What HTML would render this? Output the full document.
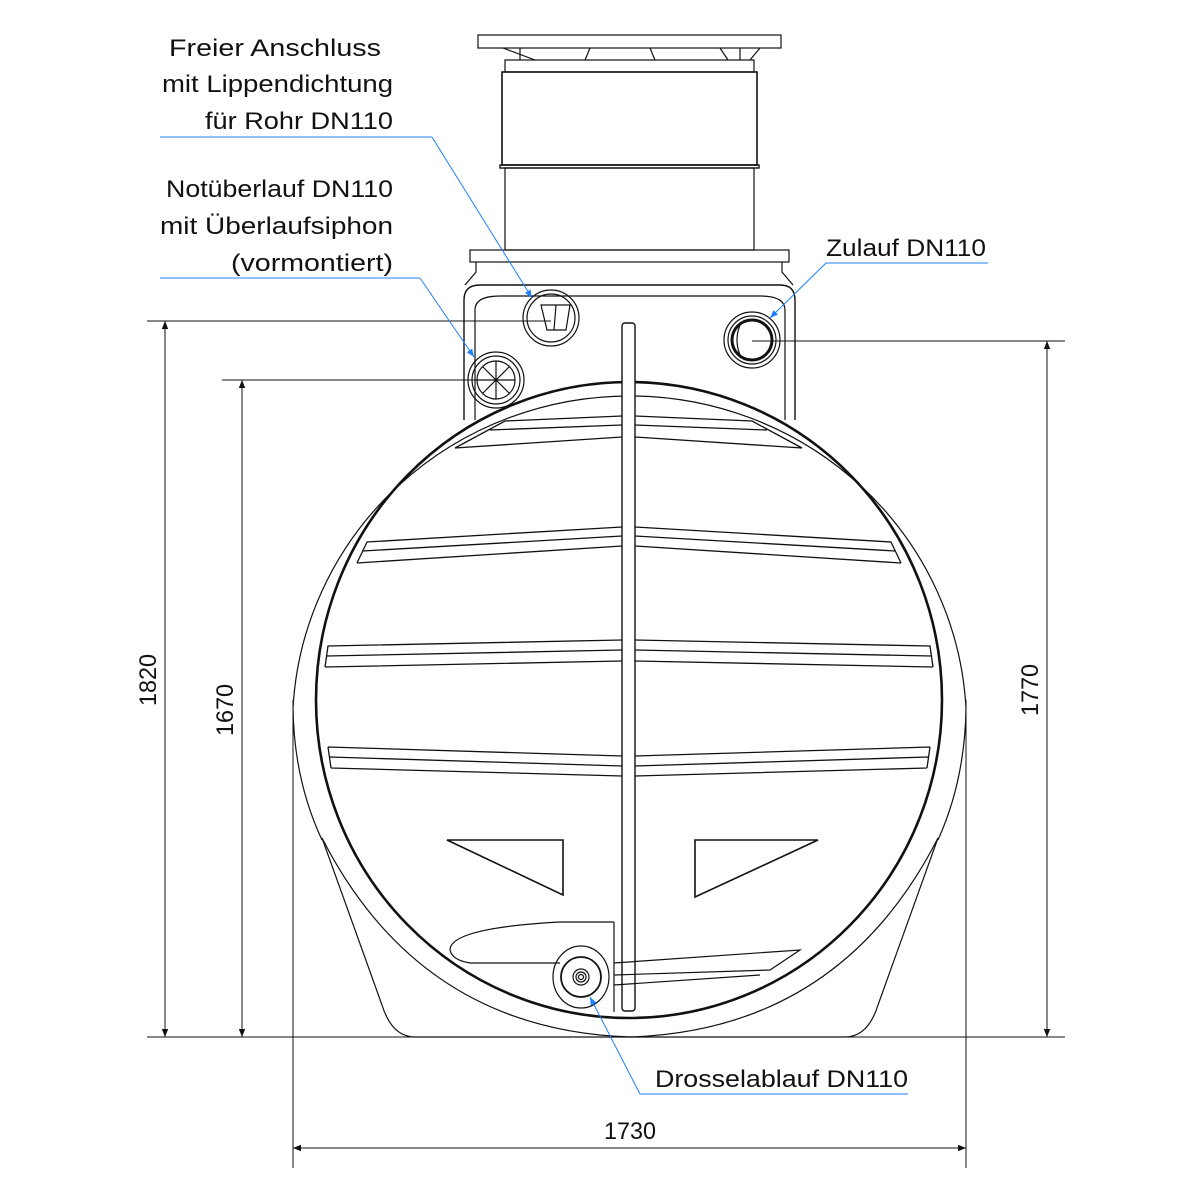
<!DOCTYPE html>
<html><head><meta charset="utf-8"><style>html,body{margin:0;padding:0;background:#fff}svg{display:block}text{font-family:"Liberation Sans",sans-serif;font-size:24px;fill:#111}</style></head>
<body>
<svg width="1200" height="1200" viewBox="0 0 1200 1200" xmlns="http://www.w3.org/2000/svg">
<defs>
<marker id="a" viewBox="0 0 10 10" refX="10" refY="5" markerWidth="14" markerHeight="8" markerUnits="userSpaceOnUse" orient="auto"><path d="M0,1 L10,5 L0,9 z" fill="#111"/></marker>
<marker id="b" viewBox="0 0 10 10" refX="10" refY="5" markerWidth="14" markerHeight="8" markerUnits="userSpaceOnUse" orient="auto"><path d="M0,1 L10,5 L0,9 z" fill="#1e7fff"/></marker>
</defs>
<g fill="none" stroke="#111" stroke-width="1.2">
<rect x="478" y="35" width="303" height="13"/>
<path d="M520 48 L520 60 M740 48 L740 60 M503 48 L535 60 M590 48 L585 60 M650 48 L655 60 M720 48 L728 60 M760 48 L750 60"/>
<rect x="505" y="60" width="249" height="12"/>
<rect x="502" y="72" width="255" height="93" stroke-width="1.6"/>
<rect x="500" y="165" width="259" height="3" stroke-width="1.4"/>
<rect x="505" y="168" width="249" height="82"/>
<rect x="470" y="250" width="319" height="12"/>
<path d="M476 262 L476 272 L465 285 M782 262 L782 272 L793 285"/>
<path d="M464 420 L464 300 Q464 285 480 285 L780 285 Q795 285 795 300 L795 420" stroke-width="1.4"/>
<path d="M475 420 L475 310 Q475 296 500 296 L760 296 Q785 296 785 310 L785 420"/>
<circle cx="551" cy="318" r="28"/><circle cx="551" cy="318" r="24"/>
<path d="M541 305 L570 305 L566 330 L547 330 Z M556 305 L554 330"/>
<circle cx="496" cy="380" r="28"/><circle cx="496" cy="380" r="24"/><circle cx="496" cy="380" r="19"/>
<path d="M496 361 L496 399 M477 380 L515 380 M483 367 L509 393 M509 367 L483 393"/>
<circle cx="752" cy="340" r="28"/><circle cx="752" cy="340" r="24"/><circle cx="752" cy="340" r="20" stroke-width="3"/>
<path d="M740 325 Q734 340 740 355"/>
<path d="M293 708 A337 330 0 0 1 966 708" />
<path d="M322 838 L382 1005 Q392 1037 415 1037 L845 1037 Q868 1037 878 1005 L938 838"/>
<path d="M322 838 Q420 1030 630 1037 Q840 1030 938 838"/>
<path d="M293 708 Q294 780 322 840 M966 708 Q965 780 938 840"/>
<ellipse cx="629" cy="700" rx="313" ry="318" stroke-width="2.6"/>
<rect x="622" y="323" width="13" height="688" rx="3" fill="#fff" stroke-width="1.4"/>
<g stroke-width="1.3">
<path d="M455 448 L505 421 L622 416 M490 430 L622 425 M455 448 L622 437"/>
<path d="M357 563 L367 542 L622 527 M363 551 L622 536 M357 563 L622 546"/>
<path d="M325 667 L328 646 L622 640 M327 656 L622 650 M325 667 L622 661"/>
<path d="M328 747 L331 768 M328 747 L622 756 M330 757 L622 766 M331 768 L622 776"/>
<path d="M802 448 L752 421 L635 416 M767 430 L635 425 M802 448 L635 437"/>
<path d="M901 563 L891 542 L635 527 M895 551 L635 536 M901 563 L635 546"/>
<path d="M933 667 L930 646 L635 640 M931 656 L635 650 M933 667 L635 661"/>
<path d="M930 747 L927 768 M930 747 L635 756 M928 757 L635 766 M927 768 L635 776"/>
</g>
<path d="M447 840 L563 840 L563 895 Z" stroke-width="1.6"/>
<path d="M695 840 L818 840 L695 897 Z" stroke-width="1.6"/>
<path d="M614 922 L614 1012 M614 922 L560 922 Q450 928 450 950 Q452 960 470 963 L560 963"/>
<path d="M614 963 L800 950 L770 970 L614 975 M614 985 L760 975"/>
<ellipse cx="581" cy="977" rx="28" ry="31"/><circle cx="581" cy="977" r="20" stroke-width="1.8"/>
<circle cx="581" cy="977" r="8"/><circle cx="581" cy="977" r="5"/><circle cx="581" cy="977" r="2.5"/>
<g stroke-width="1">
<path d="M147 321 L551 321 M222 380 L496 380 M752 341 L1065 341 M147 1037 L1065 1037 M293 700 L293 1168 M966 700 L966 1168"/>
<line x1="165" y1="1037" x2="165" y2="321" marker-end="url(#a)"/><line x1="165" y1="321" x2="165" y2="1037" marker-end="url(#a)"/>
<line x1="242" y1="1037" x2="242" y2="380" marker-end="url(#a)"/><line x1="242" y1="380" x2="242" y2="1037" marker-end="url(#a)"/>
<line x1="1047" y1="1037" x2="1047" y2="341" marker-end="url(#a)"/><line x1="1047" y1="341" x2="1047" y2="1037" marker-end="url(#a)"/>
<line x1="293" y1="1148" x2="966" y2="1148" marker-end="url(#a)"/><line x1="966" y1="1148" x2="293" y2="1148" marker-end="url(#a)"/>
</g>
</g>
<g fill="none" stroke="#1e7fff" stroke-width="1">
<path d="M160 137 L432 137"/><line x1="432" y1="137" x2="532" y2="298" marker-end="url(#b)"/>
<path d="M160 278 L420 278"/><line x1="420" y1="278" x2="474" y2="357" marker-end="url(#b)"/>
<path d="M988 263 L826 263"/><line x1="826" y1="263" x2="770" y2="318" marker-end="url(#b)"/>
<path d="M908 1094 L640 1094"/><line x1="640" y1="1094" x2="590" y2="997" marker-end="url(#b)"/>
</g>
<g text-anchor="end">
<text x="381" y="56" textLength="212" lengthAdjust="spacingAndGlyphs">Freier Anschluss</text>
<text x="393" y="92" textLength="231" lengthAdjust="spacingAndGlyphs">mit Lippendichtung</text>
<text x="393" y="129" textLength="188" lengthAdjust="spacingAndGlyphs">für Rohr DN110</text>
<text x="393" y="197" textLength="227" lengthAdjust="spacingAndGlyphs">Notüberlauf DN110</text>
<text x="393" y="234" textLength="233" lengthAdjust="spacingAndGlyphs">mit Überlaufsiphon</text>
<text x="393" y="271" textLength="162" lengthAdjust="spacingAndGlyphs">(vormontiert)</text>
</g>
<text x="826" y="256" textLength="160" lengthAdjust="spacingAndGlyphs">Zulauf DN110</text>
<text x="655" y="1087" textLength="253" lengthAdjust="spacingAndGlyphs">Drosselablauf DN110</text>
<text x="604" y="1139" textLength="52" lengthAdjust="spacingAndGlyphs">1730</text>
<text transform="translate(156 706) rotate(-90)" textLength="52" lengthAdjust="spacingAndGlyphs">1820</text>
<text transform="translate(233 736) rotate(-90)" textLength="52" lengthAdjust="spacingAndGlyphs">1670</text>
<text transform="translate(1038 716) rotate(-90)" textLength="52" lengthAdjust="spacingAndGlyphs">1770</text>
</svg>
</body></html>
